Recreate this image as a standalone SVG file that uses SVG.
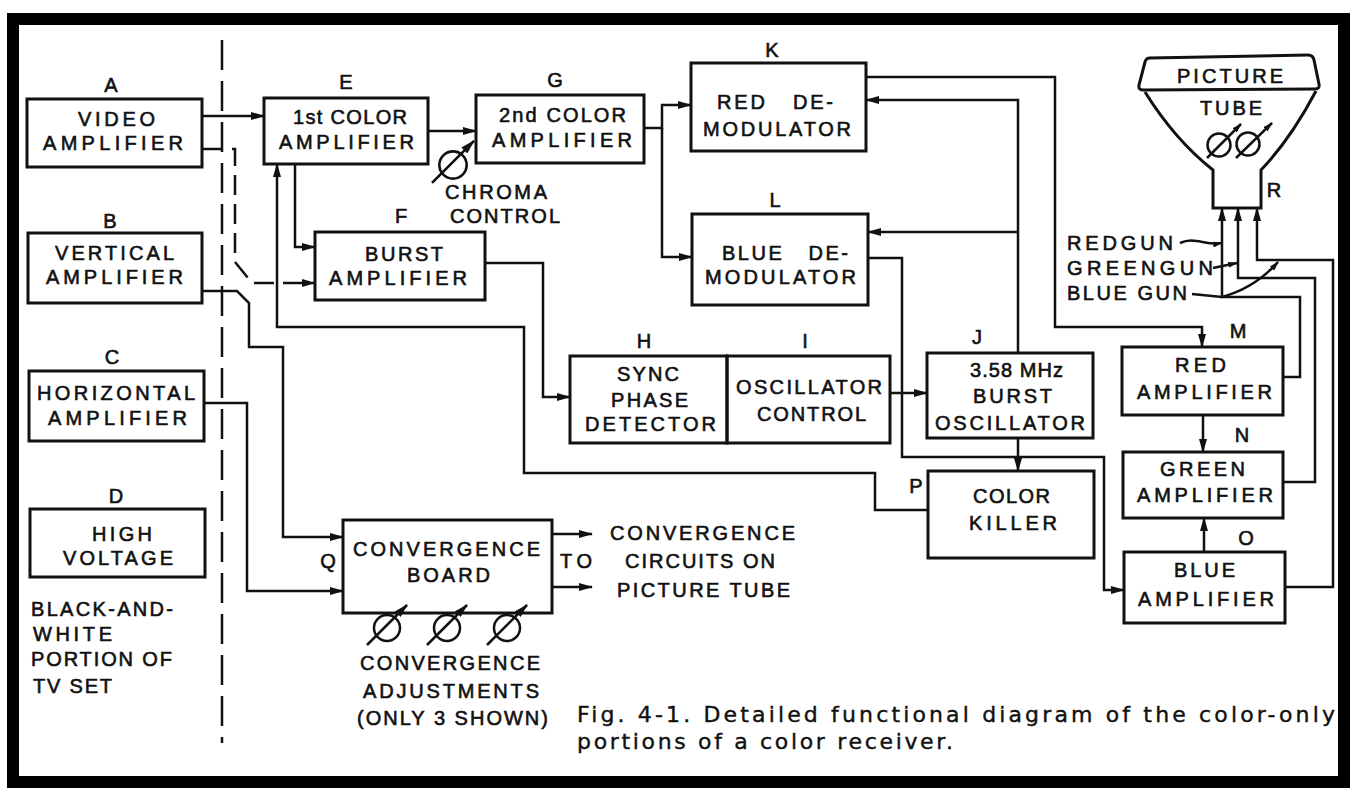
<svg xmlns="http://www.w3.org/2000/svg" width="1352" height="791" viewBox="0 0 1352 791">
<defs>
<style>
.bx{fill:none;stroke:#111;stroke-width:3}
.ln{fill:none;stroke:#111;stroke-width:2.5}
.ds{fill:none;stroke:#111;stroke-width:2.5;stroke-dasharray:20 9}
.dl{fill:none;stroke:#111;stroke-width:2.5;stroke-dasharray:30 11}
text{font-family:"Liberation Sans",Arial,sans-serif;font-size:20px;fill:#111;stroke:#111;stroke-width:0.6}
.cap{font-family:"DejaVu Sans","Liberation Sans",sans-serif;font-size:22px;stroke-width:0.4}
</style>
<marker id="ah" viewBox="0 0 14 8" refX="13" refY="4" markerWidth="14" markerHeight="8" orient="auto" markerUnits="userSpaceOnUse"><path d="M0,0 L14,4 L0,8 z" fill="#111"/></marker>
<marker id="as" viewBox="0 0 10 6" refX="9" refY="3" markerWidth="10" markerHeight="6" orient="auto" markerUnits="userSpaceOnUse"><path d="M0,0 L10,3 L0,6 z" fill="#111"/></marker>
<g id="pot">
<circle cx="0" cy="0" r="13" fill="none" stroke="#111" stroke-width="2.5"/>
<path d="M-20,17 L20,-23" fill="none" stroke="#111" stroke-width="2.5" marker-end="url(#ah)"/>
</g>
</defs>
<rect width="1352" height="791" fill="#fff"/>
<rect x="13" y="19" width="1331" height="763" fill="none" stroke="#000" stroke-width="12"/>
<path class="dl" d="M222,40 V743"/>

<g id="connectors">
<path class="ln" d="M202,116 H264" marker-end="url(#ah)"/>
<path class="ds" d="M203,149 H235 V262 L252,283 H315" marker-end="url(#ah)"/>
<path class="ln" d="M295,164 V247 H315" marker-end="url(#ah)"/>
<path class="ln" d="M928,510 H875 V473 H524 V327 H277 V164" marker-end="url(#ah)"/>
<path class="ln" d="M202,291 H237 L249,303 V347 H283 V537 H343" marker-end="url(#ah)"/>
<path class="ln" d="M204,403 H247 V591 H343" marker-end="url(#ah)"/>
<path class="ln" d="M552,534 H592" marker-end="url(#ah)"/>
<path class="ln" d="M552,587 H592" marker-end="url(#ah)"/>
<path class="ln" d="M428,131 H476" marker-end="url(#ah)"/>
<path class="ln" d="M644,128 H662 V105 H691" marker-end="url(#ah)"/>
<path class="ln" d="M662,128 V257 H692" marker-end="url(#ah)"/>
<path class="ln" d="M1018,353 V100 H866" marker-end="url(#ah)"/>
<path class="ln" d="M1018,232 H868" marker-end="url(#ah)"/>
<path class="ln" d="M866,77 H1055 V327 H1202 V347" marker-end="url(#ah)"/>
<path class="ln" d="M868,258 H902 V457 H1104 V590 H1124" marker-end="url(#ah)"/>
<path class="ln" d="M485,263 H543 V397 H570" marker-end="url(#ah)"/>
<path class="ln" d="M890,393 H927" marker-end="url(#ah)"/>
<path class="ln" d="M1018,438 V471" marker-end="url(#ah)"/>
<path class="ln" d="M1203,415 V452" marker-end="url(#ah)"/>
<path class="ln" d="M1204,552 V518" marker-end="url(#ah)"/>
<path class="ln" d="M1283,377 H1300 V297 H1222 V208" marker-end="url(#ah)"/>
<path class="ln" d="M1283,482 H1315 V278 H1238 V208" marker-end="url(#ah)"/>
<path class="ln" d="M1285,587 H1333 V260 H1257 V208" marker-end="url(#ah)"/>
<path class="ln" d="M1180,243 C1195,236 1205,246 1222,243" marker-end="url(#as)"/>
<path class="ln" d="M1213,268 L1237,263" marker-end="url(#as)"/>
<path class="ln" d="M1192,294 L1222,297 Q1255,288 1278,262" marker-end="url(#as)"/>
</g>

<g id="nodeA"><rect class="bx" x="27" y="99" width="175" height="68"/>
<text x="111" y="92" text-anchor="middle">A</text>
<text x="78" y="126" textLength="77" lengthAdjust="spacing">VIDEO</text>
<text x="43" y="150" textLength="140" lengthAdjust="spacing">AMPLIFIER</text></g>

<g id="nodeB"><rect class="bx" x="28" y="233" width="174" height="70"/>
<text x="110" y="228" text-anchor="middle">B</text>
<text x="55" y="260" textLength="119" lengthAdjust="spacing">VERTICAL</text>
<text x="46" y="284" textLength="137" lengthAdjust="spacing">AMPLIFIER</text></g>

<g id="nodeC"><rect class="bx" x="29" y="371" width="175" height="70"/>
<text x="112" y="364" text-anchor="middle">C</text>
<text x="37" y="400" textLength="158" lengthAdjust="spacing">HORIZONTAL</text>
<text x="48" y="425" textLength="139" lengthAdjust="spacing">AMPLIFIER</text></g>

<g id="nodeD"><rect class="bx" x="30" y="509" width="175" height="68"/>
<text x="116" y="503" text-anchor="middle">D</text>
<text x="92" y="541" textLength="60" lengthAdjust="spacing">HIGH</text>
<text x="63" y="565" textLength="110" lengthAdjust="spacing">VOLTAGE</text></g>

<g id="bwlabel">
<text x="31" y="616" textLength="142" lengthAdjust="spacing">BLACK-AND-</text>
<text x="33" y="641" textLength="79" lengthAdjust="spacing">WHITE</text>
<text x="31" y="666" textLength="141" lengthAdjust="spacing">PORTION OF</text>
<text x="33" y="693" textLength="79" lengthAdjust="spacing">TV SET</text>
</g>

<g id="nodeE"><rect class="bx" x="264" y="98" width="164" height="66"/>
<text x="346" y="89" text-anchor="middle">E</text>
<text x="293" y="124" textLength="114" lengthAdjust="spacing">1st COLOR</text>
<text x="279" y="149" textLength="135" lengthAdjust="spacing">AMPLIFIER</text></g>

<g id="nodeF"><rect class="bx" x="315" y="232" width="170" height="68"/>
<text x="401" y="223" text-anchor="middle">F</text>
<text x="365" y="261" textLength="78" lengthAdjust="spacing">BURST</text>
<text x="329" y="285" textLength="138" lengthAdjust="spacing">AMPLIFIER</text></g>

<g id="nodeG"><rect class="bx" x="476" y="95" width="168" height="68"/>
<text x="555" y="87" text-anchor="middle">G</text>
<text x="499" y="122" textLength="127" lengthAdjust="spacing">2nd COLOR</text>
<text x="492" y="147" textLength="140" lengthAdjust="spacing">AMPLIFIER</text></g>

<g id="chroma">
<use href="#pot" transform="translate(453,165) scale(1.05)"/>
<text x="445" y="199" textLength="102" lengthAdjust="spacing">CHROMA</text>
<text x="450" y="223" textLength="110" lengthAdjust="spacing">CONTROL</text>
</g>

<g id="nodeK"><rect class="bx" x="691" y="63" width="175" height="88"/>
<text x="772" y="57" text-anchor="middle">K</text>
<text x="717" y="109" textLength="116" lengthAdjust="spacing" xml:space="preserve">RED   DE-</text>
<text x="703" y="136" textLength="148" lengthAdjust="spacing">MODULATOR</text></g>

<g id="nodeL"><rect class="bx" x="692" y="214" width="176" height="91"/>
<text x="775" y="207" text-anchor="middle">L</text>
<text x="722" y="260" textLength="126" lengthAdjust="spacing" xml:space="preserve">BLUE   DE-</text>
<text x="705" y="284" textLength="151" lengthAdjust="spacing">MODULATOR</text></g>

<g id="nodeH"><rect class="bx" x="570" y="356" width="157" height="87"/>
<text x="644" y="348" text-anchor="middle">H</text>
<text x="617" y="381" textLength="62" lengthAdjust="spacing">SYNC</text>
<text x="611" y="407" textLength="77" lengthAdjust="spacing">PHASE</text>
<text x="585" y="431" textLength="131" lengthAdjust="spacing">DETECTOR</text></g>

<g id="nodeI"><rect class="bx" x="727" y="356" width="163" height="87"/>
<text x="805" y="348" text-anchor="middle">I</text>
<text x="736" y="394" textLength="146" lengthAdjust="spacing">OSCILLATOR</text>
<text x="757" y="421" textLength="109" lengthAdjust="spacing">CONTROL</text></g>

<g id="nodeJ"><rect class="bx" x="927" y="353" width="166" height="85"/>
<text x="977" y="344" text-anchor="middle">J</text>
<text x="970" y="377" textLength="93" lengthAdjust="spacing">3.58 MHz</text>
<text x="973" y="403" textLength="79" lengthAdjust="spacing">BURST</text>
<text x="935" y="430" textLength="150" lengthAdjust="spacing">OSCILLATOR</text></g>

<g id="nodeP"><rect class="bx" x="928" y="471" width="166" height="87"/>
<text x="916" y="493" text-anchor="middle">P</text>
<text x="973" y="503" textLength="77" lengthAdjust="spacing">COLOR</text>
<text x="969" y="530" textLength="88" lengthAdjust="spacing">KILLER</text></g>

<g id="nodeM"><rect class="bx" x="1122" y="347" width="161" height="68"/>
<text x="1238" y="338" text-anchor="middle">M</text>
<text x="1175" y="372" textLength="51" lengthAdjust="spacing">RED</text>
<text x="1137" y="399" textLength="135" lengthAdjust="spacing">AMPLIFIER</text></g>

<g id="nodeN"><rect class="bx" x="1123" y="452" width="160" height="66"/>
<text x="1242" y="442" text-anchor="middle">N</text>
<text x="1160" y="476" textLength="85" lengthAdjust="spacing">GREEN</text>
<text x="1137" y="502" textLength="136" lengthAdjust="spacing">AMPLIFIER</text></g>

<g id="nodeO"><rect class="bx" x="1124" y="552" width="161" height="71"/>
<text x="1246" y="545" text-anchor="middle">O</text>
<text x="1174" y="577" textLength="61" lengthAdjust="spacing">BLUE</text>
<text x="1138" y="606" textLength="136" lengthAdjust="spacing">AMPLIFIER</text></g>

<g id="nodeQ"><rect class="bx" x="343" y="520" width="209" height="93"/>
<text x="328" y="568" text-anchor="middle">Q</text>
<text x="353" y="556" textLength="187" lengthAdjust="spacing">CONVERGENCE</text>
<text x="407" y="582" textLength="83" lengthAdjust="spacing">BOARD</text>
<use href="#pot" transform="translate(387,628)"/>
<use href="#pot" transform="translate(447,628)"/>
<use href="#pot" transform="translate(507,628)"/>
<text x="360" y="670" textLength="180" lengthAdjust="spacing">CONVERGENCE</text>
<text x="363" y="698" textLength="176" lengthAdjust="spacing">ADJUSTMENTS</text>
<text x="357" y="725" textLength="191" lengthAdjust="spacing">(ONLY 3 SHOWN)</text>
</g>

<g id="convout">
<text x="560" y="568" textLength="32" lengthAdjust="spacing">TO</text>
<text x="610" y="540" textLength="185" lengthAdjust="spacing">CONVERGENCE</text>
<text x="625" y="568" textLength="150" lengthAdjust="spacing">CIRCUITS ON</text>
<text x="617" y="597" textLength="173" lengthAdjust="spacing">PICTURE TUBE</text>
</g>

<g id="nodeR">
<path class="bx" d="M1150,58 L1308,55 Q1313,55 1314,60 L1319,84 Q1320,89 1315,89 L1143,90 Q1138,90 1139,85 L1145,62 Q1146,58 1150,58 Z"/>
<path class="bx" d="M1145,92 Q1175,140 1213,170 V208 H1261 V170 Q1290,140 1316,91"/>
<text x="1177" y="83" textLength="106" lengthAdjust="spacing">PICTURE</text>
<text x="1200" y="115" textLength="62" lengthAdjust="spacing">TUBE</text>
<g transform="translate(1219,145)"><circle r="11.5" fill="none" stroke="#111" stroke-width="2.5"/><path d="M-12,13 L22,-21" fill="none" stroke="#111" stroke-width="2.5" marker-end="url(#as)"/></g>
<g transform="translate(1248,144)"><circle r="11.5" fill="none" stroke="#111" stroke-width="2.5"/><path d="M-12,14 L24,-21" fill="none" stroke="#111" stroke-width="2.5" marker-end="url(#as)"/></g>
<text x="1274" y="197" text-anchor="middle">R</text>
<text x="1067" y="250" textLength="106" lengthAdjust="spacing">REDGUN</text>
<text x="1067" y="275" textLength="146" lengthAdjust="spacing">GREENGUN</text>
<text x="1067" y="300" textLength="120" lengthAdjust="spacing">BLUE GUN</text>
</g>

<g id="caption">
<text class="cap" x="577" y="722" textLength="758" lengthAdjust="spacing">Fig. 4-1. Detailed functional diagram of the color-only</text>
<text class="cap" x="577" y="749" textLength="376" lengthAdjust="spacing">portions of a color receiver.</text>
</g>
</svg>
